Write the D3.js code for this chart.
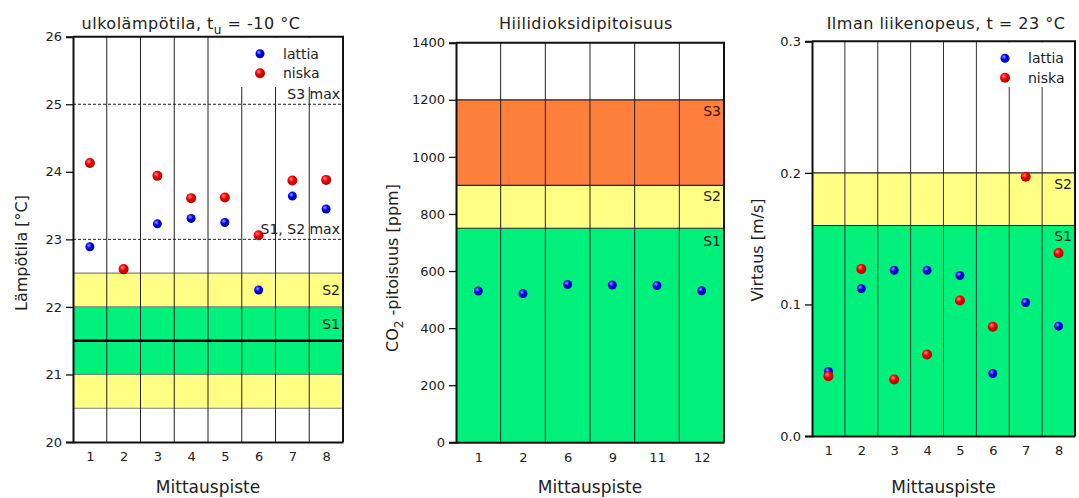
<!DOCTYPE html>
<html>
<head>
<meta charset="utf-8">
<script src="https://cdn.jsdelivr.net/npm/d3@7"></script>
<style>
body{margin:0;background:#fff;}
svg{display:block;font-family:"DejaVu Sans",Verdana,sans-serif;}
</style>
</head>
<body>
<svg width="1079" height="498"></svg>
<script>
// lämpötila
var tempPoints = ["1","2","3","4","5","6","7","8"];
var tempLattia = [22.89, 22.55, 23.23, 23.31, 23.25, 22.25, 23.64, 23.45];
var tempNiska  = [24.13, 22.56, 23.94, 23.61, 23.62, 23.06, 23.87, 23.88];
var tempS2 = [20.5, 22.5];
var tempS1 = [21, 22];
var tempTarget = 21.5;
var tempMaxValues = [25, 23];
var tempMaxLabels = ["S3 max", "S1, S2 max"];

// hiilidioksidi
var co2Points = ["1","2","6","9","11","12"];
var co2Values = [530, 521, 553, 551, 549, 531];
var co2Limits = [750, 900, 1200];

// ilman liikenopeus
var airPoints = ["1","2","3","4","5","6","7","8"];
var airLattia = [0.049, 0.112, 0.126, 0.126, 0.122, 0.0475, 0.1015, 0.0835];
var airNiska  = [0.0455, 0.127, 0.043, 0.062, 0.103, 0.083, 0.197, 0.139];
var airLimits = [0.16, 0.2];

var svg = d3.select("svg");
var green = "#00f07c", yellow = "#ffff84", orange = "#ff7f3c";
var textCol = "#222";

var defs = svg.append("defs");
function sphere(id, c0, c1, c2){
	var gr = defs.append("radialGradient").attr("id", id)
		.attr("cx", "38%").attr("cy", "35%").attr("r", "65%");
	gr.append("stop").attr("offset", "0%").attr("stop-color", c0);
	gr.append("stop").attr("offset", "45%").attr("stop-color", c1);
	gr.append("stop").attr("offset", "100%").attr("stop-color", c2);
}
sphere("blueBall", "#9c9cff", "#0000f0", "#00009a");
sphere("redBall", "#ff8a8a", "#f00000", "#b00000");

function makeScales(cats, x0, x1, yDom, y0, y1){
	return {
		x: d3.scaleLinear().domain([0.5, cats.length + 0.5]).range([x0, x1]),
		y: d3.scaleLinear().domain(yDom).range([y0, y1])
	};
}

function band(g, s, lo, hi, color){
	g.append("rect")
		.attr("x", s.x.range()[0]).attr("width", s.x.range()[1] - s.x.range()[0])
		.attr("y", s.y(hi)).attr("height", s.y(lo) - s.y(hi))
		.attr("fill", color);
}
function hline(g, s, v, color, w, dash){
	g.append("line")
		.attr("x1", s.x.range()[0]).attr("x2", s.x.range()[1])
		.attr("y1", s.y(v)).attr("y2", s.y(v))
		.attr("stroke", color).attr("stroke-width", w)
		.attr("stroke-dasharray", dash || null);
}
function vgrid(g, s, cats, color){
	var b = d3.range(1.5, cats.length, 1);
	g.selectAll(null).data(b).enter().append("line")
		.attr("x1", function(d){ return s.x(d); })
		.attr("x2", function(d){ return s.x(d); })
		.attr("y1", s.y.range()[1]).attr("y2", s.y.range()[0])
		.attr("stroke", color).attr("stroke-width", 1);
}
function sLabel(g, s, v, txt, dy){
	g.append("text").attr("x", s.x.range()[1] - 3).attr("y", s.y(v) + dy)
		.attr("text-anchor", "end").style("font-size", "14px")
		.attr("fill", textCol).text(txt);
}
function points(g, s, vals, id, r){
	g.selectAll(null).data(vals).enter().append("circle")
		.attr("cx", function(d, i){ return s.x(i + 1); })
		.attr("cy", function(d){ return s.y(d); })
		.attr("r", r)
		.attr("fill", "url(#" + id + ")");
}
function legend(g, s, lx){
	var x1 = s.x.range()[1], top = s.y.range()[1];
	g.append("rect").attr("x", lx - 22).attr("y", top + 1)
		.attr("width", x1 - lx + 21).attr("height", 86 - top).attr("fill", "#fff");
	var items = [["lattia", "blueBall", 4.5], ["niska", "redBall", 5]];
	items.forEach(function(it, i){
		var yy = top + 17 + i * 19.5;
		g.append("circle").attr("cx", lx).attr("cy", yy).attr("r", it[2])
			.attr("fill", "url(#" + it[1] + ")");
		g.append("text").attr("x", lx + 23).attr("y", yy + 5)
			.style("font-size", "14px").attr("fill", textCol).text(it[0]);
	});
}
function axes(g, s, cats, majorTicks, minorTicks, fmt){
	var x0 = s.x.range()[0], x1 = s.x.range()[1];
	var yb = s.y.range()[0], yt = s.y.range()[1];
	// frame top + right
	g.append("path")
		.attr("d", "M" + x0 + "," + yt + "H" + x1 + "V" + yb)
		.attr("fill", "none").attr("stroke", "#111").attr("stroke-width", 2);
	var ya = g.append("g").attr("transform", "translate(" + x0 + ",0)");
	ya.call(d3.axisLeft(s.y).tickValues(minorTicks).tickSize(4).tickFormat(""));
	ya.call(d3.axisLeft(s.y).tickValues(majorTicks).tickSize(7).tickPadding(4).tickFormat(fmt));
	ya.selectAll("path.domain").attr("stroke", "#111").attr("stroke-width", 2);
	ya.selectAll("line").attr("stroke", "#111").attr("stroke-width", 1.3);
	ya.selectAll("text").style("font-size", "13px").attr("fill", textCol)
		.style("font-family", "DejaVu Sans");
	var xa = g.append("g").attr("transform", "translate(0," + yb + ")");
	xa.call(d3.axisBottom(s.x).tickValues(d3.range(0.5, cats.length + 1, 1))
		.tickSize(8).tickFormat("").tickSizeOuter(0));
	xa.call(d3.axisBottom(s.x).tickValues(d3.range(1, cats.length + 1, 1))
		.tickSize(0).tickPadding(10).tickSizeOuter(0)
		.tickFormat(function(d){ return cats[d - 1]; }));
	xa.selectAll("path.domain").attr("stroke", "#111").attr("stroke-width", 2);
	xa.selectAll("line").attr("stroke", "#111").attr("stroke-width", 1.3);
	xa.selectAll("text").style("font-size", "13px").attr("fill", textCol)
		.style("font-family", "DejaVu Sans");
	g.append("text").attr("x", (x0 + x1) / 2).attr("y", 493)
		.attr("text-anchor", "middle").style("font-size", "17px")
		.attr("fill", textCol).text("Mittauspiste");
}
function yTitle(g, x, y){
	return g.append("text").attr("transform", "translate(" + x + "," + y + ") rotate(-90)")
		.attr("text-anchor", "middle").style("font-size", "16px").attr("fill", textCol);
}
function title(g, x){
	return g.append("text").attr("x", x).attr("y", 29)
		.attr("text-anchor", "middle").style("font-size", "16px")
		.style("letter-spacing", "0.5px").attr("fill", textCol);
}

// ---- vasen: lämpötila
var g1 = svg.append("g");
var s1 = makeScales(tempPoints, 73, 343, [20, 26], 442, 36.7);
band(g1, s1, tempS2[0], tempS2[1], yellow);
band(g1, s1, tempS1[0], tempS1[1], green);
[tempS2[0], tempS1[0], tempS1[1], tempS2[1]].forEach(function(v){ hline(g1, s1, v, "#808080", 1.2); });
vgrid(g1, s1, tempPoints, "#222");
hline(g1, s1, tempTarget, "#000", 2.5);
tempMaxValues.forEach(function(v, i){
	hline(g1, s1, v, "#222", 1, "3,2");
	sLabel(g1, s1, v, tempMaxLabels[i], -5);
});
sLabel(g1, s1, (tempS1[1] + tempS2[1]) / 2, "S2", 5);
sLabel(g1, s1, (tempTarget + tempS1[1]) / 2, "S1", 5);
legend(g1, s1, 260);
points(g1, s1, tempLattia, "blueBall", 4.5);
points(g1, s1, tempNiska, "redBall", 5);
axes(g1, s1, tempPoints, d3.range(20, 26.01, 1), d3.range(20, 26.01, 0.25), d3.format("d"));
yTitle(g1, 27, 253).text("Lämpötila [°C]");
var t1 = title(g1, 191);
t1.append("tspan").text("ulkolämpötila, t");
t1.append("tspan").attr("dy", 5).style("font-size", "12px").text("u");
t1.append("tspan").attr("dy", -5).text(" = -10 °C");

// ---- keski: CO2
var g2 = svg.append("g");
var s2 = makeScales(co2Points, 456, 724, [0, 1400], 442.3, 42.7);
band(g2, s2, 0, co2Limits[0], green);
band(g2, s2, co2Limits[0], co2Limits[1], yellow);
band(g2, s2, co2Limits[1], co2Limits[2], orange);
vgrid(g2, s2, co2Points, "#222");
co2Limits.forEach(function(v){ hline(g2, s2, v, "#222", 1.2); });
sLabel(g2, s2, co2Limits[2], "S3", 16);
sLabel(g2, s2, co2Limits[1], "S2", 16);
sLabel(g2, s2, co2Limits[0], "S1", 18);
points(g2, s2, co2Values, "blueBall", 4.5);
axes(g2, s2, co2Points, d3.range(0, 1401, 200), d3.range(0, 1401, 50), d3.format("d"));
var yt2 = yTitle(g2, 398, 268);
yt2.append("tspan").text("CO");
yt2.append("tspan").attr("dy", 5).style("font-size", "12px").text("2");
yt2.append("tspan").attr("dy", -5).text(" -pitoisuus [ppm]");
title(g2, 586).text("Hiilidioksidipitoisuus");

// ---- oikea: ilman liikenopeus
var g3 = svg.append("g");
var s3 = makeScales(airPoints, 812, 1075, [0, 0.3], 436, 41.3);
band(g3, s3, 0, airLimits[0], green);
band(g3, s3, airLimits[0], airLimits[1], yellow);
vgrid(g3, s3, airPoints, "#333");
airLimits.forEach(function(v){ hline(g3, s3, v, "#222", 1.2); });
sLabel(g3, s3, airLimits[1], "S2", 16);
sLabel(g3, s3, airLimits[0], "S1", 16);
legend(g3, s3, 1005);
points(g3, s3, airLattia, "blueBall", 4.5);
points(g3, s3, airNiska, "redBall", 5);
axes(g3, s3, airPoints, d3.range(0, 0.31, 0.1), d3.range(0, 0.301, 0.025), d3.format(".1f"));
yTitle(g3, 763, 250).text("Virtaus [m/s]");
title(g3, 946).text("Ilman liikenopeus, t = 23 °C");
</script>
</body>
</html>
